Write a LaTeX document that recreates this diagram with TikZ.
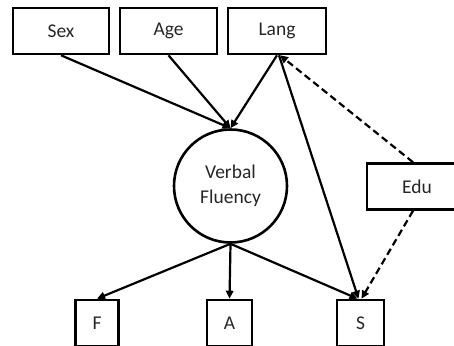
\documentclass[tikz,border=0pt]{standalone}
\usepackage{fontspec}
\setmainfont{Carlito}
\usetikzlibrary{arrows.meta, positioning}
\tikzset{
    varbox/.style={draw, rectangle, line width=2.6pt, inner sep=0pt, minimum height=46pt,
        text=black!85, font=\fontsize{19.5}{24}\selectfont},
    latent/.style={draw, circle, line width=2.6pt, inner sep=0pt, minimum size=113pt, align=center,
        text=black!85, font=\fontsize{19.5}{25}\selectfont},
    effect/.style={line width=2.2pt, -{Triangle[length=8pt, width=7.5pt]}},
    covar/.style={effect, dash pattern=on 7pt off 4pt}
}

\begin{document}
\begin{tikzpicture}[x=1pt, y=-1pt]
    \useasboundingbox (0,0) rectangle (454,345);
    % predictors
    \node[varbox, minimum width=96pt] (sex) at (61,31) {Sex};
    \node[varbox, minimum width=97pt] (age) at (168.5,31) {Age};
    \node[varbox, minimum width=98pt] (lang) at (277,31) {Lang};
    \node[varbox, minimum width=100pt] (edu) at (417,186.5) {Edu};
    % latent factor
    \node[latent] (vf) at (230.5,186) {Verbal\\Fluency};
    % indicators
    \node[varbox, minimum width=43pt] (f) at (97,323) {F};
    \node[varbox, minimum width=45pt] (a) at (229.5,323) {A};
    \node[varbox, minimum width=47pt] (s) at (360.5,323) {S};
    \draw[effect] (sex.south) -- (vf.north);
    \draw[effect] (age.south) -- (vf.north);
    \draw[effect] (lang.south) -- (vf.north);
    \draw[effect] ([xshift=2pt]lang.south) -- ([xshift=-2pt]s.north);
    \draw[covar] ([xshift=-4pt]edu.north) -- ([xshift=3pt]lang.south);
    \draw[covar] ([xshift=-4pt]edu.south) -- ([xshift=1pt]s.north);
    \draw[effect] (vf.south) -- (f.north);
    \draw[effect] (vf.south) -- (a.north);
    \draw[effect] (vf.south) -- ([xshift=-3pt]s.north);
\end{tikzpicture}
\end{document}
